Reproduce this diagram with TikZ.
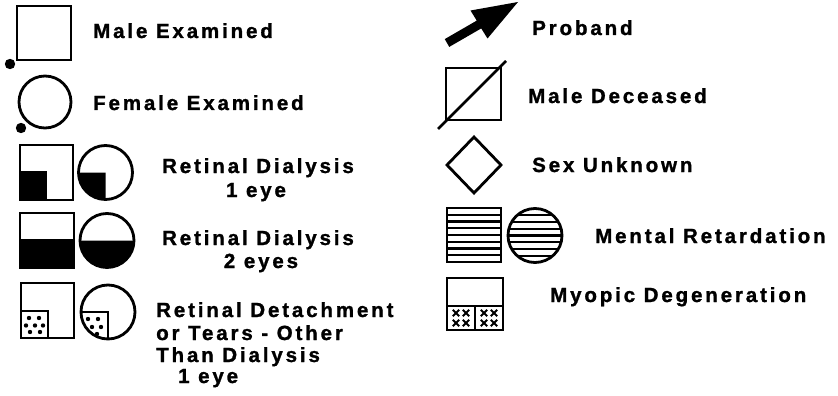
\documentclass[tikz,border=0pt]{standalone}
\usepackage{fontspec}
\newfontfamily\labfont{Liberation Sans}[LetterSpace=14,FakeBold=1.3]
\newcommand\labsize{\fontsize{20.5}{24}\selectfont}
\begin{document}
\begin{tikzpicture}[x=1pt,y=-1pt,
  sym/.style={line width=2.8pt},
  thin/.style={line width=2.2pt},
  lab/.style={anchor=base west, inner sep=0pt, font=\labfont\bfseries\labsize},
  labc/.style={anchor=base, inner sep=0pt, font=\labfont\bfseries\labsize}]
\useasboundingbox (0,0) rectangle (838,396);
% Male examined
\draw[sym] (17,6) rectangle (71,60);
\fill (10,64) circle (5.2);
\node[lab] (maleex) at (93,38) {Male Examined};
% Female examined
\draw[sym] (45,102) circle (26);
\fill (21,128) circle (5.2);
\node[lab] (femex) at (93,110) {Female Examined};
% Retinal dialysis 1 eye
\fill (20,171) rectangle (46.5,200);
\draw[sym] (20,145) rectangle (73,200);
\fill (105.5,172.5) -- (78.5,172.5) arc[start angle=180,end angle=90,radius=27] -- cycle;
\draw[sym] (105.5,172.5) circle (27);
\node[labc] (rd1a) at (258,173) {Retinal Dialysis};
\node[labc] (rd1b) at (256,197) {1 eye};
% Retinal dialysis 2 eyes
\fill (20,239) rectangle (74,268);
\draw[sym] (20,213) rectangle (74,268);
\fill (80,240.5) arc[start angle=180,end angle=0,radius=27] -- cycle;
\draw[sym] (107,240.5) circle (27);
\node[labc] (rd2a) at (258,245) {Retinal Dialysis};
\node[labc] (rd2b) at (261,268) {2 eyes};
% Retinal detachment
\draw[sym] (21,283) rectangle (74,338);
\draw[thin] (21,311) -- (48,311) -- (48,338);
\foreach \p in {(29,318),(39,318),(26,325.5),(35,325.5),(43,325.5),(30,332),(40,332)}
  \fill \p circle (2.2);
\draw[sym] (108,312) circle (27);
\draw[thin] (81,312) -- (108,312) -- (108,339);
\foreach \p in {(88,319),(98,319),(92,327),(101,327),(97,334)}
  \fill \p circle (2.2);
\node[lab] (rt1) at (156,317) {Retinal Detachment};
\node[lab] (rt2) at (156,340) {or Tears - Other};
\node[lab] (rt3) at (156,362) {Than Dialysis};
\node[lab] (rt4) at (178,383) {1 eye};
% Proband arrow
\fill (449.25,46.9) -- (444.75,39.1) -- (476.75,20.6) -- (470.5,10.5) -- (518,2) -- (487.5,38.5) -- (481.25,28.4) -- cycle;
\node[lab] (prob) at (532,35) {Proband};
% Male deceased
\draw[sym] (446,68) rectangle (501,120);
\draw[sym] (438,129) -- (506,61);
\node[lab] (maledec) at (528,103) {Male Deceased};
% Sex unknown
\draw[sym] (474,137) -- (501,165) -- (474,193) -- (447,165) -- cycle;
\node[lab] (sexunk) at (532,172) {Sex Unknown};
% Mental retardation
\draw[sym] (447,208) rectangle (501,262);
\foreach \k in {1,...,7}
  \draw[thin] (447,208+\k*6.75) -- (501,208+\k*6.75);
\begin{scope}
  \clip (535,235.5) circle (27);
  \foreach \k in {1,...,7}
    \draw[thin] (505,208.5+\k*6.75) -- (565,208.5+\k*6.75);
\end{scope}
\draw[sym] (535,235.5) circle (27);
\node[lab] (ment) at (595,243) {Mental Retardation};
% Myopic degeneration
\draw[sym] (447,278) rectangle (503,330);
\draw[sym] (447,306) -- (503,306);
\draw[sym] (475,306) -- (475,330);
\foreach \cx in {456,466,484,494}
  \foreach \cy in {313,323}
    \draw[line width=1.9pt] (\cx-3.2,\cy-3.2) -- (\cx+3.2,\cy+3.2) (\cx-3.2,\cy+3.2) -- (\cx+3.2,\cy-3.2);
\node[lab] (myo) at (550,302) {Myopic Degeneration};
\end{tikzpicture}
\end{document}
